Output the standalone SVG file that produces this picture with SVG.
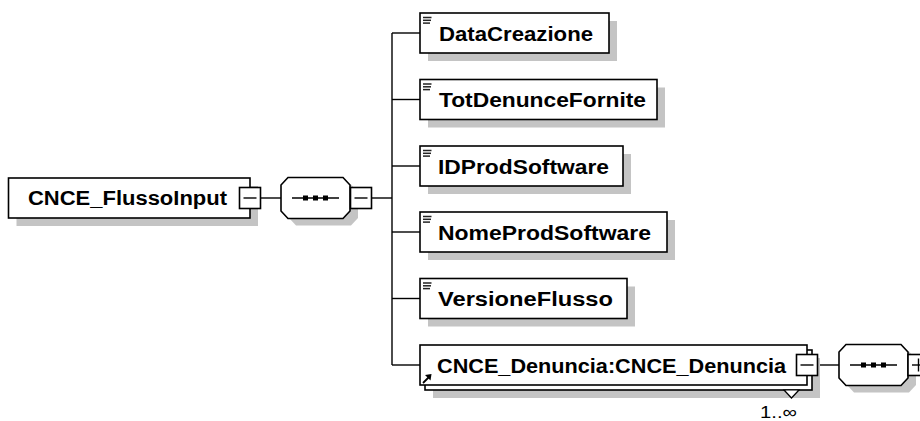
<svg xmlns="http://www.w3.org/2000/svg" width="920" height="421" viewBox="0 0 920 421">
<style>
.box{fill:#fff;stroke:#000;stroke-width:1.6}
.shadow{fill:#c4c4c4;stroke:none}
.conn{fill:none;stroke:#000;stroke-width:1.4}
.lbl{font-family:"Liberation Sans",Arial,sans-serif;font-weight:bold;font-size:20px;fill:#000}
.occ{font-family:"Liberation Sans","DejaVu Sans",sans-serif;font-size:17px;fill:#000}
.ico{stroke:#222;stroke-width:1.5}
</style>
<defs>
  <g id="minus">
    <rect class="box" x="-10.5" y="-10.5" width="21" height="21"/>
    <line x1="-6.5" y1="0" x2="6.5" y2="0" stroke="#000" stroke-width="1.4"/>
  </g>
  <g id="plus">
    <rect class="box" x="-10.5" y="-10.5" width="21" height="21"/>
    <line x1="-6.5" y1="0" x2="6.5" y2="0" stroke="#000" stroke-width="1.4"/>
    <line x1="0" y1="-6.5" x2="0" y2="6.5" stroke="#000" stroke-width="1.4"/>
  </g>
  <polygon id="octShape" points="7,-20.5 62,-20.5 69,-13 69,13 62,20.5 7,20.5 0,13 0,-13"/>
  <g id="seq">
    <use href="#octShape" class="shadow" x="8" y="7"/>
    <use href="#octShape" class="box"/>
    <line x1="11" y1="0" x2="58" y2="0" stroke="#000" stroke-width="1.4"/>
    <rect x="22" y="-2.5" width="5" height="5" fill="#000"/>
    <rect x="32" y="-2.5" width="5" height="5" fill="#000"/>
    <rect x="42" y="-2.5" width="5" height="5" fill="#000"/>
  </g>
  <g id="ico">
    <line class="ico" x1="0" y1="0" x2="8.5" y2="0"/>
    <line class="ico" x1="0" y1="2.8" x2="8" y2="2.8"/>
    <line class="ico" x1="0" y1="5.6" x2="7" y2="5.6"/>
  </g>
</defs>

<g id="connectors">
  <line class="conn" x1="260.5" y1="198" x2="281" y2="198"/>
  <line class="conn" x1="371.5" y1="198" x2="392" y2="198"/>
  <line class="conn" x1="392" y1="33" x2="392" y2="365"/>
  <line class="conn" x1="392" y1="33" x2="420" y2="33"/>
  <line class="conn" x1="392" y1="99.5" x2="420" y2="99.5"/>
  <line class="conn" x1="392" y1="166" x2="420" y2="166"/>
  <line class="conn" x1="392" y1="232" x2="420" y2="232"/>
  <line class="conn" x1="392" y1="298.5" x2="420" y2="298.5"/>
  <line class="conn" x1="392" y1="365" x2="420" y2="365"/>
  <line class="conn" x1="817.5" y1="365" x2="839" y2="365"/>
</g>

<g id="CNCE_FlussoInput">
  <rect class="shadow" x="16.5" y="186" width="241.5" height="40"/>
  <rect class="box" x="8.5" y="178" width="241.5" height="40"/>
  <text class="lbl" x="28" y="205" textLength="199" lengthAdjust="spacingAndGlyphs">CNCE_FlussoInput</text>
  <use href="#minus" x="250" y="198"/>
</g>

<g id="sequence1">
  <use href="#seq" x="281" y="198"/>
  <use href="#minus" x="361" y="198"/>
</g>

<g id="DataCreazione">
  <rect class="shadow" x="428" y="21" width="189" height="40"/>
  <rect class="box" x="420" y="13" width="189" height="40"/>
  <use href="#ico" x="423" y="17.5"/>
  <text class="lbl" x="439" y="40.5" textLength="154" lengthAdjust="spacingAndGlyphs">DataCreazione</text>
</g>

<g id="TotDenunceFornite">
  <rect class="shadow" x="428" y="87.5" width="237" height="40"/>
  <rect class="box" x="420" y="79.5" width="237" height="40"/>
  <use href="#ico" x="423" y="84"/>
  <text class="lbl" x="439" y="107" textLength="207" lengthAdjust="spacingAndGlyphs">TotDenunceFornite</text>
</g>

<g id="IDProdSoftware">
  <rect class="shadow" x="428" y="154" width="203" height="40"/>
  <rect class="box" x="420" y="146" width="203" height="40"/>
  <use href="#ico" x="423" y="150.5"/>
  <text class="lbl" x="438" y="173.5" textLength="171" lengthAdjust="spacingAndGlyphs">IDProdSoftware</text>
</g>

<g id="NomeProdSoftware">
  <rect class="shadow" x="428" y="220" width="247" height="40"/>
  <rect class="box" x="420" y="212" width="247" height="40"/>
  <use href="#ico" x="423" y="216.5"/>
  <text class="lbl" x="438" y="239.5" textLength="213" lengthAdjust="spacingAndGlyphs">NomeProdSoftware</text>
</g>

<g id="VersioneFlusso">
  <rect class="shadow" x="428" y="286.5" width="207" height="40"/>
  <rect class="box" x="420" y="278.5" width="207" height="40"/>
  <use href="#ico" x="423" y="283"/>
  <text class="lbl" x="438" y="306" textLength="175" lengthAdjust="spacingAndGlyphs">VersioneFlusso</text>
</g>

<g id="CNCE_Denuncia">
  <rect class="shadow" x="433" y="358" width="387" height="40"/>
  <rect class="box" x="425" y="350" width="387" height="40"/>
  <polygon points="784,390 799,390 791.5,398" fill="#fff" stroke="#000" stroke-width="1.2"/>
  <rect class="box" x="420" y="345" width="387" height="40"/>
  <path d="M423,383 L428.5,377.5" stroke="#000" stroke-width="1.8"/>
  <polygon points="431.5,374 425,375 430.5,380.5" fill="#000"/>
  <text class="lbl" x="437" y="372.5" textLength="349" lengthAdjust="spacingAndGlyphs">CNCE_Denuncia:CNCE_Denuncia</text>
  <use href="#minus" x="807" y="365"/>
  <text class="occ" x="760" y="418" textLength="37" lengthAdjust="spacingAndGlyphs">1..∞</text>
</g>

<g id="sequence2">
  <use href="#seq" x="839" y="365"/>
  <use href="#plus" x="918.5" y="365"/>
</g>
</svg>
